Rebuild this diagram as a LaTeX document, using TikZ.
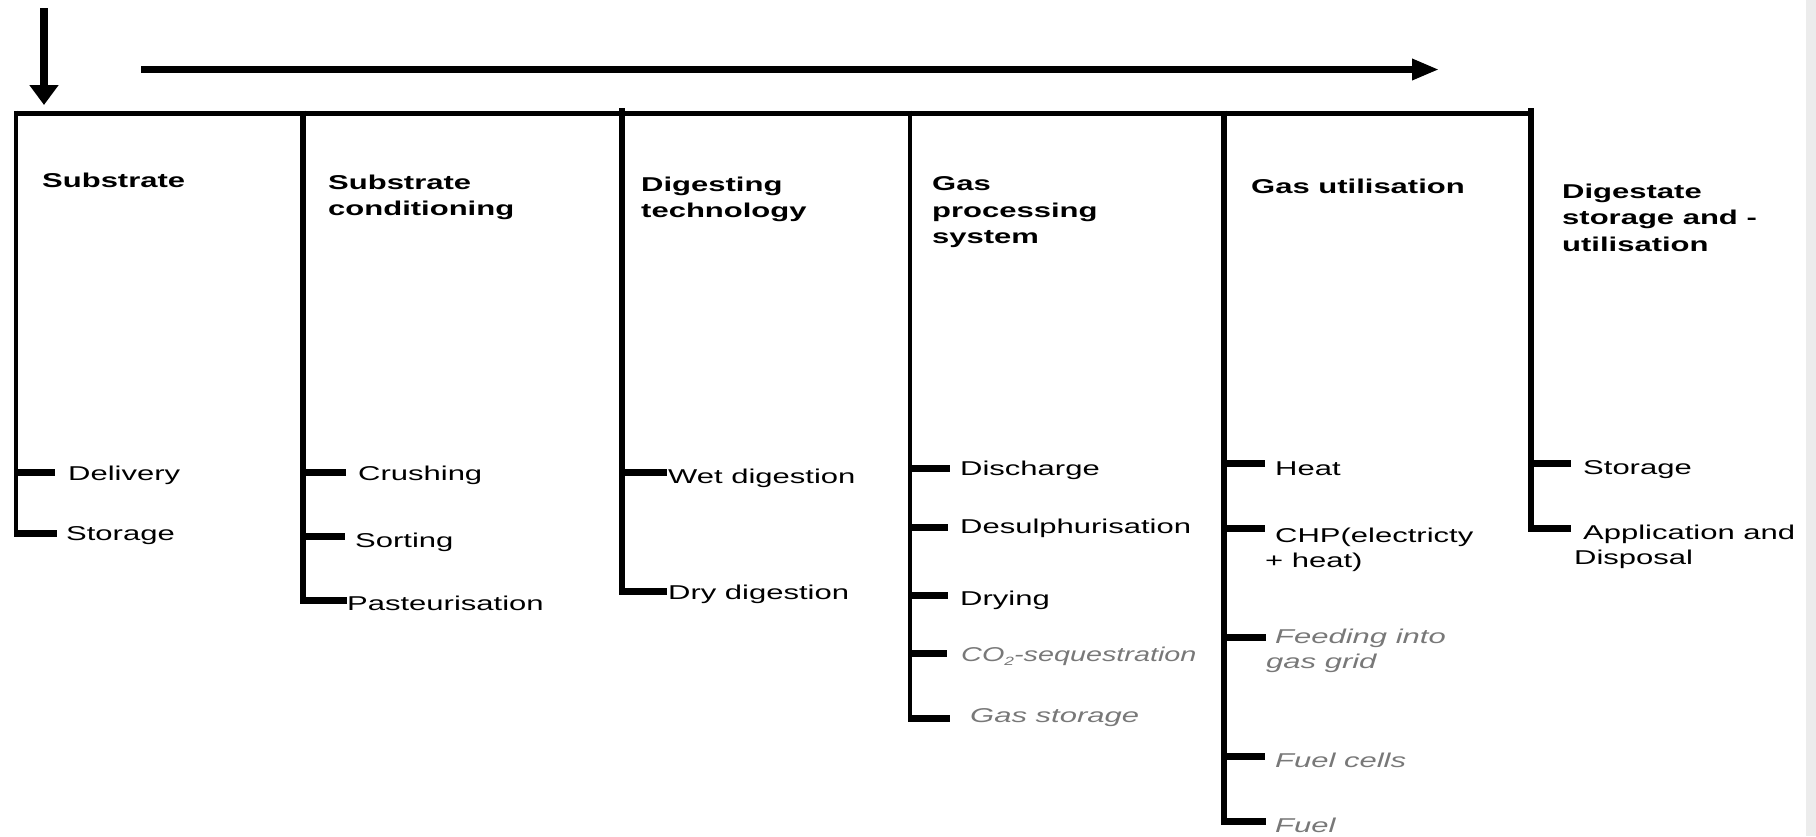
\documentclass[tikz,border=0pt]{standalone}
\usepackage{fontspec}
\setmainfont[FakeStretch=1.55]{Liberation Sans}
\newfontfamily\seqfont[FakeStretch=1.44]{Liberation Sans}
\usetikzlibrary{arrows.meta}
\definecolor{leafgray}{RGB}{120,120,120}
\definecolor{edgegray}{RGB}{236,236,236}

\begin{document}
\begin{tikzpicture}[x=1pt,y=-1pt,
  bar/.style={line width=5pt,line cap=rect},
  stem/.style={line width=#1},
  twig/.style={line width=7pt},
  head/.style={font=\bfseries\fontsize{20}{26.5}\selectfont,align=left,anchor=north west,inner sep=0pt},
  leaf/.style={font=\fontsize{20}{25.5}\selectfont,anchor=base west,inner sep=0pt},
  leafml/.style={font=\fontsize{20}{25.5}\selectfont,align=left,anchor=north west,inner sep=0pt},
  opt/.style={text=leafgray,font=\itshape\fontsize{20}{25.5}\selectfont}
]
\useasboundingbox (0,0) rectangle (1816,836);
\fill[edgegray] (1806,0) rectangle (1816,836);

% input arrow and process direction arrow
\coordinate (inTop) at (44,8);
\coordinate (inTip) at (44,105);
\draw[line width=8pt,-{Triangle[length=20pt,width=28pt]}] (inTop) -- (inTip);
\coordinate (dirStart) at (141,69.5);
\coordinate (dirTip) at (1439,69.5);
\draw[line width=6.5pt,-{Triangle[length=27pt,width=20pt]}] (dirStart) -- (dirTip);

% top bar
\coordinate (barL) at (16,113);
\coordinate (barR) at (1531,113);
\draw[bar] (barL) -- (barR);

% column stems
\draw[stem=4.5pt] (16,110.5) -- (16,536.5);
\draw[stem=6pt] (303,110.5) -- (303,603.5);
\draw[stem=5.5pt] (622,108) -- (622,594.5);
\draw[stem=4.5pt] (910,110.5) -- (910,721.5);
\draw[stem=6pt] (1224,110.5) -- (1224,824.5);
\draw[stem=6.5pt] (1531,108) -- (1531,531.5);

% headers
\node[head] (h1) at (42,172.5) {Substrate};
\node[head] (h2) at (328,174.5) {Substrate\\conditioning};
\node[head] (h3) at (641,176.5) {Digesting\\technology};
\node[head] (h4) at (932,176.5) {Gas\\processing\\system};
\node[head] (h5) at (1251,178.5) {Gas utilisation};
\node[head] (h6) at (1562,183.5) {Digestate\\storage and -\\utilisation};

% Substrate
\draw[twig] (16,472) -- (55,472);
\draw[twig] (16,533) -- (57,533);
\node[leaf] (l11) at (68,480) {Delivery};
\node[leaf] (l12) at (66,540) {Storage};

% Substrate conditioning
\draw[twig] (303,472) -- (346,472);
\draw[twig] (303,536) -- (345,536);
\draw[twig] (303,600) -- (347,600);
\node[leaf] (l21) at (358,480) {Crushing};
\node[leaf] (l22) at (355,547) {Sorting};
\node[leaf] (l23) at (347,610.5) {Pasteurisation};

% Digesting technology
\draw[twig] (622,472) -- (667,472);
\draw[twig] (622,591) -- (667,591);
\node[leaf] (l31) at (668,483) {Wet digestion};
\node[leaf] (l32) at (668,599) {Dry digestion};

% Gas processing system
\draw[twig] (910,468) -- (950,468);
\draw[twig] (910,527) -- (948,527);
\draw[twig] (910,595) -- (948,595);
\draw[twig] (910,653) -- (947,653);
\draw[twig] (910,718) -- (950,718);
\node[leaf] (l41) at (960,475) {Discharge};
\node[leaf] (l42) at (960,533) {Desulphurisation};
\node[leaf] (l43) at (960,605) {Drying};
\node[leaf,opt] (l44) at (961,661.5) {\seqfont\itshape CO\raisebox{-4pt}{\fontsize{12}{12}\selectfont 2}-sequestration};
\node[leaf,opt] (l45) at (970,722) {Gas storage};

% Gas utilisation
\draw[twig] (1224,463) -- (1265,463);
\draw[twig] (1224,528) -- (1265,528);
\draw[twig] (1224,637) -- (1266,637);
\draw[twig] (1224,756) -- (1265,756);
\draw[twig] (1224,821) -- (1266,821);
\node[leaf] (l51) at (1275,475) {Heat};
\node[leafml] (l52) at (1265,527.5) {\hspace*{10pt}CHP(electricty\\+ heat)};
\node[leafml,opt] (l53) at (1266,628.5) {\hspace*{9pt}Feeding into\\gas grid};
\node[leaf,opt] (l54) at (1275,767) {Fuel cells};
\node[leaf,opt] (l55) at (1275,832) {Fuel};

% Digestate storage and utilisation
\draw[twig] (1531,463) -- (1571,463);
\draw[twig] (1531,528) -- (1571,528);
\node[leaf] (l61) at (1583,474) {Storage};
\node[leafml] (l62) at (1574,524.5) {\hspace*{9pt}Application and\\Disposal};
\end{tikzpicture}
\end{document}
